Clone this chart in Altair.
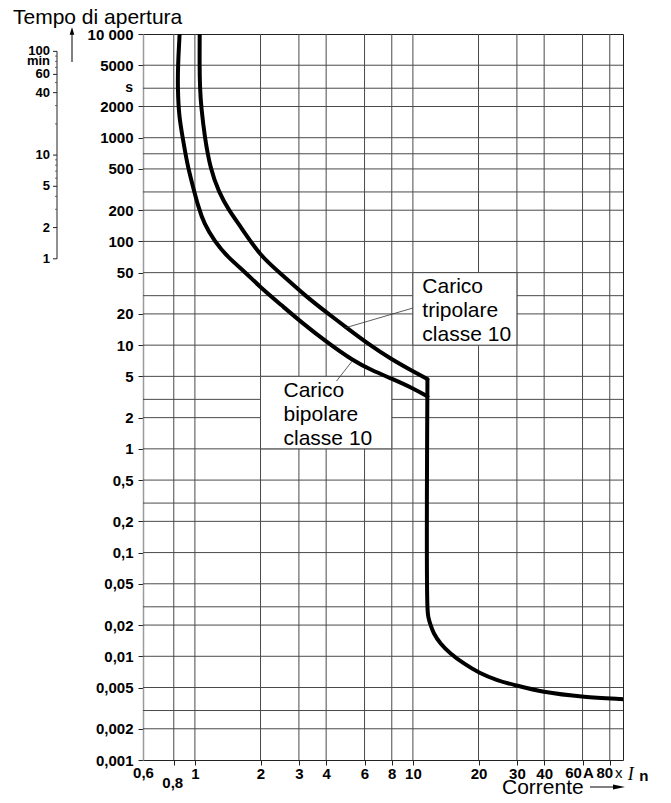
import altair as alt
import pandas as pd

# ---------------- data ----------------
X_DOMAIN = [0.578, 92]
Y_DOMAIN = [0.001, 10000]
MIN_TO_S = 68  # where the printed minute scale sits against the seconds scale

tri_x = [1.052, 1.050, 1.055, 1.068, 1.110, 1.178, 1.286, 1.430, 1.620, 2.00, 2.45, 3.20, 4.10, 4.85, 6.30, 7.90, 10.0, 11.66]
tri_y = [10000, 5000, 3000, 2000, 1000, 500, 300, 200, 139, 72, 50, 30, 20, 15.3, 10.1, 7.4, 5.6, 4.7]

bi_x = [0.851, 0.836, 0.834, 0.845, 0.883, 0.921, 0.971, 1.04, 1.10, 1.23, 1.41, 1.71, 2.0, 2.5, 3.06, 4.0, 5.36, 6.5, 8.0, 10.0, 11.66]
bi_y = [10000, 5000, 3000, 1600, 950, 566, 363, 210, 150, 100, 71, 50, 36, 24.2, 16.8, 10.8, 7.0, 5.7, 4.75, 3.85, 3.2]

tail_x = [11.66, 11.66, 11.77, 12.06, 12.5, 13.41, 14.9, 17.15, 20.24, 24.4, 30.15, 39.96, 61.0, 89.9, 92.0]
tail_y = [4.7, 0.0301, 0.0240, 0.0200, 0.0166, 0.0133, 0.01066, 0.00854, 0.00694, 0.0059, 0.0052, 0.00455, 0.00407, 0.00387, 0.00386]

hgrid = [0.002, 0.003, 0.005, 0.01, 0.02, 0.03, 0.05, 0.1, 0.2, 0.3, 0.5, 1, 2, 3, 5,
         10, 20, 30, 50, 100, 200, 300, 500, 700, 1000, 2000, 3000, 5000]
vgrid = [0.8, 1, 2, 3, 4, 6, 8, 10, 20, 30, 40, 60, 80]

ytick_values = [0.001, 0.002, 0.005, 0.01, 0.02, 0.05, 0.1, 0.2, 0.5, 1, 2, 5,
                10, 20, 50, 100, 200, 500, 1000, 2000, 5000, 10000]
xtick_values = [0.8, 1, 2, 3, 4, 6, 8, 10, 20, 30, 40, 60, 80]

box_x1 = [10, 2]
box_x2 = [30, 8]
box_y1 = [50, 5]
box_y2 = [10, 1]

lab_txt = ["Carico\ntripolare\nclasse 10", "Carico\nbipolare\nclasse 10"]
lab_x = [11.05, 2.55]
lab_y = [31.8, 3.16]

ld_x1 = [10.0, 5.26]
ld_y1 = [22.8, 7.0]
ld_x2 = [4.85, 4.46]
ld_y2 = [14.6, 4.5]

min_major = [1, 2, 5, 10, 40, 60, 100]
min_major_txt = ["1", "2", "5", "10", "40", "60", "100"]
min_minor = [3, 4, 6, 7, 8, 9, 20, 30, 50, 70, 80, 90]
min_word_pos = [80]
min_word = ["min"]

xl_vals = [0.6, 0.8, 60, 80]
xl_txt = ["0,6", "0,8", "60", "80"]

# ---------------- chart ----------------
W, H = 480, 726
FONT = "Liberation Sans"
GRID = "#4a4a4a"

xsc = alt.Scale(type="log", domain=X_DOMAIN, nice=False)
ysc = alt.Scale(type="log", domain=Y_DOMAIN, nice=False)

Y_AX = alt.Axis(
    values=ytick_values,
    labelExpr="datum.value >= 10000 ? '10 000' : replace(format(datum.value, '~g'), '.', ',')",
    title=None, grid=False, tickSize=5, tickColor="#222", tickWidth=1,
    labelPadding=5, labelFontSize=15, labelFont=FONT, labelFontWeight="bold",
    labelColor="black", labelOverlap=False, domainColor="#9a9a9a", domainWidth=1.5,
)
X_AX = alt.Axis(
    values=xtick_values,
    labelExpr="(datum.value < 0.9 || datum.value > 50) ? '' : format(datum.value, '~g')",
    title=None, grid=False, tickSize=5, tickColor="#222", tickWidth=1,
    labelPadding=1, labelFontSize=15, labelFont=FONT, labelFontWeight="bold",
    labelColor="black", labelOverlap=False, labelFlush=False, domain=False,
)


def X(field):
    return alt.X(field, scale=xsc, axis=X_AX)


def Y(field):
    return alt.Y(field, scale=ysc, axis=Y_AX)


grid_h = alt.Chart(pd.DataFrame({"v": hgrid})).mark_rule(
    color=GRID, strokeWidth=1
).encode(y=Y("v:Q"))

grid_v = alt.Chart(pd.DataFrame({"v": vgrid})).mark_rule(
    color=GRID, strokeWidth=1
).encode(x=X("v:Q"))

boxes = alt.Chart(pd.DataFrame({"x1": box_x1, "x2": box_x2, "y1": box_y1, "y2": box_y2})).mark_rect(
    fill="white", stroke=GRID, strokeWidth=1
).encode(x=X("x1:Q"), x2="x2:Q", y=Y("y1:Q"), y2="y2:Q")


def curve_df(name, xs_, ys_):
    return pd.DataFrame({"s": name, "i": list(range(len(xs_))), "x": xs_, "y": ys_})


df_upper = pd.concat([curve_df("tri", tri_x, tri_y), curve_df("bi", bi_x, bi_y)])
df_tail = curve_df("tail", tail_x, tail_y)

curves = alt.Chart(df_upper).mark_line(
    color="black", strokeWidth=4, interpolate="basis", clip=True,
    strokeCap="round", strokeJoin="round",
).encode(x=X("x:Q"), y=Y("y:Q"), detail="s:N", order="i:Q")

tail = alt.Chart(df_tail).mark_line(
    color="black", strokeWidth=4, interpolate="catmull-rom", clip=True,
    strokeCap="round", strokeJoin="round",
).encode(x=X("x:Q"), y=Y("y:Q"), order="i:Q")

leaders = alt.Chart(pd.DataFrame({"x1": ld_x1, "y1": ld_y1, "x2": ld_x2, "y2": ld_y2})).mark_rule(
    color="#333", strokeWidth=0.8
).encode(x=X("x1:Q"), x2="x2:Q", y=Y("y1:Q"), y2="y2:Q")

labels = alt.Chart(pd.DataFrame({"t": lab_txt, "x": lab_x, "y": lab_y})).mark_text(
    align="left", baseline="alphabetic", font=FONT, fontSize=21,
    lineBreak="\n", lineHeight=24, color="black",
).encode(x=X("x:Q"), y=Y("y:Q"), text="t:N")


def xlabel(val, txt, dx=0, dy=0, size=15, weight="bold", font=FONT, style="normal"):
    return alt.Chart(pd.DataFrame({"x": [val], "t": [txt]})).mark_text(
        align="center", baseline="top", font=font, fontSize=size, fontWeight=weight,
        fontStyle=style, dx=dx, dy=dy, color="black",
    ).encode(x=X("x:Q"), y=alt.value(H + 6), text="t:N")


extra = [
    xlabel(xl_vals[0], xl_txt[0], dx=-3),
    xlabel(xl_vals[1], xl_txt[1], dx=-1, dy=10),
    xlabel(xl_vals[2], xl_txt[2], dx=-9),
    xlabel(xl_vals[2], "A", dx=6),
    xlabel(xl_vals[3], xl_txt[3], dx=-5),
    xlabel(xl_vals[3], "x", dx=9, weight="normal"),
    xlabel(xl_vals[3], "I", dx=21, size=18, weight="normal", font="Liberation Serif", style="italic"),
    xlabel(xl_vals[3], "n", dx=34, dy=3),
]

one = pd.DataFrame({"t": [""]})


def free_text(txt, x, y, size=21, weight="normal", align="left", baseline="alphabetic"):
    return alt.Chart(pd.DataFrame({"t": [txt]})).mark_text(
        align=align, baseline=baseline, font=FONT, fontSize=size, fontWeight=weight, color="black"
    ).encode(x=alt.value(x), y=alt.value(y), text="t:N")


title_t = free_text("Tempo di apertura", -130, -10)
corr_t = free_text("Corrente", 359, 760)
s_t = free_text("s", -10, 54, size=14, weight="bold", align="right", baseline="middle")

y_arrow = alt.Chart(one).mark_rule(color="black", strokeWidth=1).encode(
    x=alt.value(-71), y=alt.value(28), y2=alt.value(-2))
y_head = alt.Chart(one).mark_point(shape="M-0.6,1L0,-1L0.6,1Z", filled=True, color="black",
                                    opacity=1, size=60).encode(x=alt.value(-71), y=alt.value(-3))
c_arrow = alt.Chart(one).mark_rule(color="black", strokeWidth=1).encode(
    x=alt.value(447), x2=alt.value(476), y=alt.value(753))
c_head = alt.Chart(one).mark_point(shape="M-1,-0.4L1,0L-1,0.4Z", filled=True, color="black",
                                    opacity=1, size=144).encode(x=alt.value(476), y=alt.value(753))

# minutes scale (left), placed on the seconds scale
min_line = alt.Chart(pd.DataFrame({"a": [1], "b": [100]})).transform_calculate(
    sa=f"datum.a * {MIN_TO_S}", sb=f"datum.b * {MIN_TO_S}"
).mark_rule(color="#222", strokeWidth=1).encode(
    x=alt.value(-86), y=Y("sa:Q"), y2="sb:Q")
min_tick_major = alt.Chart(pd.DataFrame({"m": min_major})).transform_calculate(
    s=f"datum.m * {MIN_TO_S}"
).mark_rule(color="#222", strokeWidth=1).encode(
    x=alt.value(-90), x2=alt.value(-86), y=Y("s:Q"))
min_tick_minor = alt.Chart(pd.DataFrame({"m": min_minor})).transform_calculate(
    s=f"datum.m * {MIN_TO_S}"
).mark_rule(color="#444", strokeWidth=0.8).encode(
    x=alt.value(-88), x2=alt.value(-86), y=Y("s:Q"))
min_labels = alt.Chart(pd.DataFrame({"m": min_major + min_word_pos, "t": min_major_txt + min_word})).transform_calculate(
    s=f"datum.m * {MIN_TO_S}"
).mark_text(
    align="right", baseline="middle", font=FONT, fontSize=13, fontWeight="bold", color="black"
).encode(x=alt.value(-93), y=Y("s:Q"), text="t:N")

chart = alt.layer(
    grid_h, grid_v, boxes, curves, tail, leaders, labels, *extra,
    title_t, corr_t, s_t, y_arrow, y_head, c_arrow, c_head,
    min_line, min_tick_major, min_tick_minor, min_labels,
).properties(
    width=W, height=H,
    padding={"left": 135, "top": 26, "right": 40, "bottom": 35},
    autosize=alt.AutoSizeParams(type="none"),
).configure_view(stroke="#222", strokeWidth=1)

chart.save("out.html", embed_options={"renderer": "svg", "actions": False})
